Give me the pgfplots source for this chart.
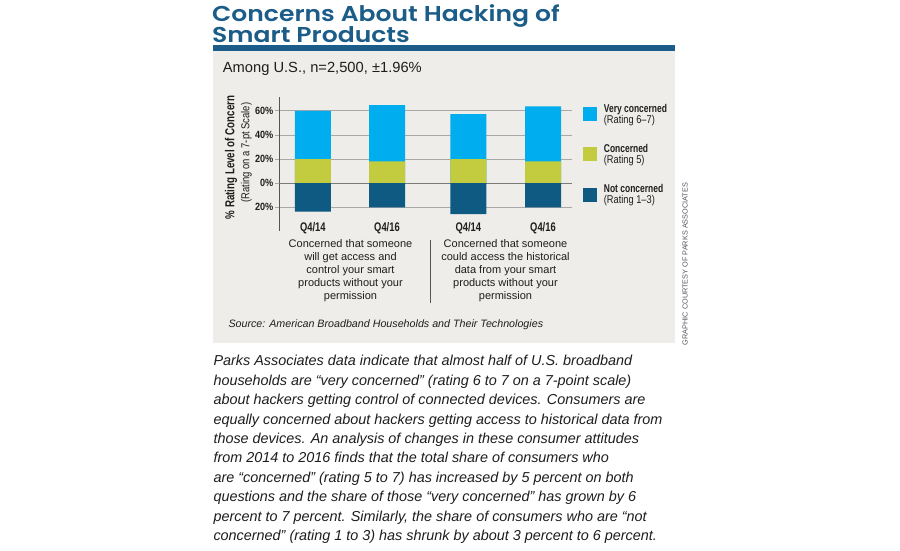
\documentclass[border=0pt]{standalone}
\usepackage{fontspec}
\usepackage{pgfplots}
\pgfplotsset{compat=1.18}
\setmainfont{Liberation Sans}
\newfontfamily\bcond{Liberation Sans}[FakeStretch=0.75]
\newfontfamily\bcondb{Liberation Sans}[FakeStretch=0.87]
\newfontfamily\rcond{Liberation Sans}[FakeStretch=0.82]
\newfontfamily\titlefont{Poppins}[BoldFont={Poppins SemiBold}, FakeStretch=1.165]
\definecolor{vcyan}{HTML}{00AEEF}
\definecolor{cgreen}{HTML}{C3CB3F}
\definecolor{ndblue}{HTML}{0E5A82}
\definecolor{titleblue}{HTML}{1B5C88}
\definecolor{panel}{HTML}{EFEDE9}
\definecolor{gridgray}{HTML}{A8A8A8}
\definecolor{zerogray}{HTML}{7A7A7A}
\definecolor{axisgray}{HTML}{555555}
\definecolor{txt}{HTML}{1E1E1E}
\pgfplotsset{sqleg/.style={legend image code/.code={\fill[##1] (0pt,-7pt) rectangle (14pt,7pt);}}}
\begin{document}
\begin{tikzpicture}
\path[use as bounding box, fill=white] (0,0) rectangle (900pt,-550pt);
\begin{scope}[x=1pt,y=-1pt]
\fill[panel] (212.7,51) rectangle (675,343.3);
\fill[titleblue] (212.7,45) rectangle (675,51);
\node[anchor=base west, inner sep=0, text=titleblue, font=\titlefont\bfseries\fontsize{21.5}{21}\selectfont] at (212,21.7) {Concerns About Hacking of};
\node[anchor=base west, inner sep=0, text=titleblue, font=\titlefont\bfseries\fontsize{21.5}{21}\selectfont] at (212,42.7) {Smart Products};
\node[anchor=base west, inner sep=0, text=txt, font=\fontsize{14.7}{16}\selectfont] at (222.7,72.3) {Among U.S., n=2,500, ±1.96\%};
% y label
\node[rotate=90, inner sep=0, text=txt, font=\bcond\bfseries\fontsize{13}{13}\selectfont] at (231,157.5) {\% Rating Level of Concern};
\node[rotate=90, inner sep=0, text=txt, font=\rcond\fontsize{11.5}{12}\selectfont] at (246.5,152.5) {(Rating on a 7-pt Scale)};
% category descriptions
\foreach \t [count=\i from 0] in {Concerned that someone, will get access and, control your smart, products without your, permission}
  \node[anchor=base, inner sep=0, text=txt, font=\fontsize{11}{12}\selectfont] at (350.5,247.7+12.95*\i) {\t};
\foreach \t [count=\i from 0] in {Concerned that someone, could access the historical, data from your smart, products without your, permission}
  \node[anchor=base, inner sep=0, text=txt, font=\fontsize{11}{12}\selectfont] at (505.5,247.7+12.95*\i) {\t};
\draw[axisgray, line width=0.9pt] (430.3,240) -- (430.3,303);
\node[anchor=base west, inner sep=0, text=txt, font=\itshape\fontsize{10.7}{12}\selectfont] at (228.3,327.3) {Source: American Broadband Households and Their Technologies};
% paragraph
\foreach \t [count=\i from 0] in {
Parks Associates data indicate that almost half of U.S. broadband,
households are “very concerned” (rating 6 to 7 on a 7-point scale),
about hackers getting control of connected devices. Consumers are,
equally concerned about hackers getting access to historical data from,
those devices. An analysis of changes in these consumer attitudes,
from 2014 to 2016 finds that the total share of consumers who,
are “concerned” (rating 5 to 7) has increased by 5 percent on both,
questions and the share of those “very concerned” has grown by 6,
percent to 7 percent. Similarly{,} the share of consumers who are “not,
concerned” (rating 1 to 3) has shrunk by about 3 percent to 6 percent.}
  \node[anchor=base west, inner sep=0, text=txt, font=\itshape\fontsize{14.4}{15}\selectfont] at (213.3,365.7+19.45*\i) {\t};
\node[rotate=90, inner sep=0, text=axisgray, font=\fontsize{7.3}{8}\selectfont] at (685,264) {GRAPHIC COURTESY OF PARKS ASSOCIATES};
\end{scope}
\begin{axis}[
  at={(279pt,-97pt)}, anchor=north west,
  scale only axis, width=293pt, height=134pt,
  xmin=0, xmax=293, ymin=-39.6, ymax=71.4,
  xtick={33.8,108,189.3,264}, xticklabels={Q4/14,Q4/16,Q4/14,Q4/16},
  ytick={-20,0,20,40,60}, yticklabels={20\%,0\%,20\%,40\%,60\%},
  axis y line*=left, axis x line*=bottom,
  x axis line style={draw=none},
  y axis line style={-, color=axisgray, line width=0.9pt},
  xtick style={draw=none},
  ytick style={color=gridgray, line width=0.8pt},
  major tick length=4pt, tick align=outside,
  ymajorgrids, grid style={color=gridgray, line width=0.8pt},
  extra y ticks={0}, extra y tick labels={},
  extra y tick style={grid style={color=zerogray, line width=1.3pt}},
  yticklabel style={anchor=east, inner sep=0pt, xshift=-1.5pt, text=txt, font=\bcondb\bfseries\fontsize{10.5}{11}\selectfont},
  xticklabel style={anchor=base, inner sep=0pt, yshift=3.3pt, text=txt, font=\bcond\bfseries\fontsize{12.5}{13}\selectfont},
  legend style={at={(1.0365,0.965)}, anchor=north west, draw=none, fill=none, inner sep=0pt,
     row sep=15.5pt, column sep=5pt, text=txt, font=\fontsize{11.3}{11}\selectfont,
     cells={align=left, inner sep=0pt}},
  legend cell align=left,
]
\addplot[ybar, bar width=36, bar shift=0pt, fill=vcyan, draw=none, sqleg] coordinates {(33.8,60) (108,64.7) (189.3,57.3) (264,63.6)};
\addlegendentry{{\bcond\bfseries Very concerned}\\{\rcond (Rating 6–7)}}
\addplot[ybar, bar width=36, bar shift=0pt, fill=cgreen, draw=none, sqleg] coordinates {(33.8,20) (108,18) (189.3,20) (264,18)};
\addlegendentry{{\bcond\bfseries Concerned}\\{\rcond (Rating 5)}}
\addplot[ybar, bar width=36, bar shift=0pt, fill=ndblue, draw=none, sqleg] coordinates {(33.8,-23.5) (108,-20) (189.3,-25.6) (264,-20)};
\addlegendentry{{\bcond\bfseries Not concerned}\\{\rcond (Rating 1–3)}}
\end{axis}
\end{tikzpicture}
\end{document}
